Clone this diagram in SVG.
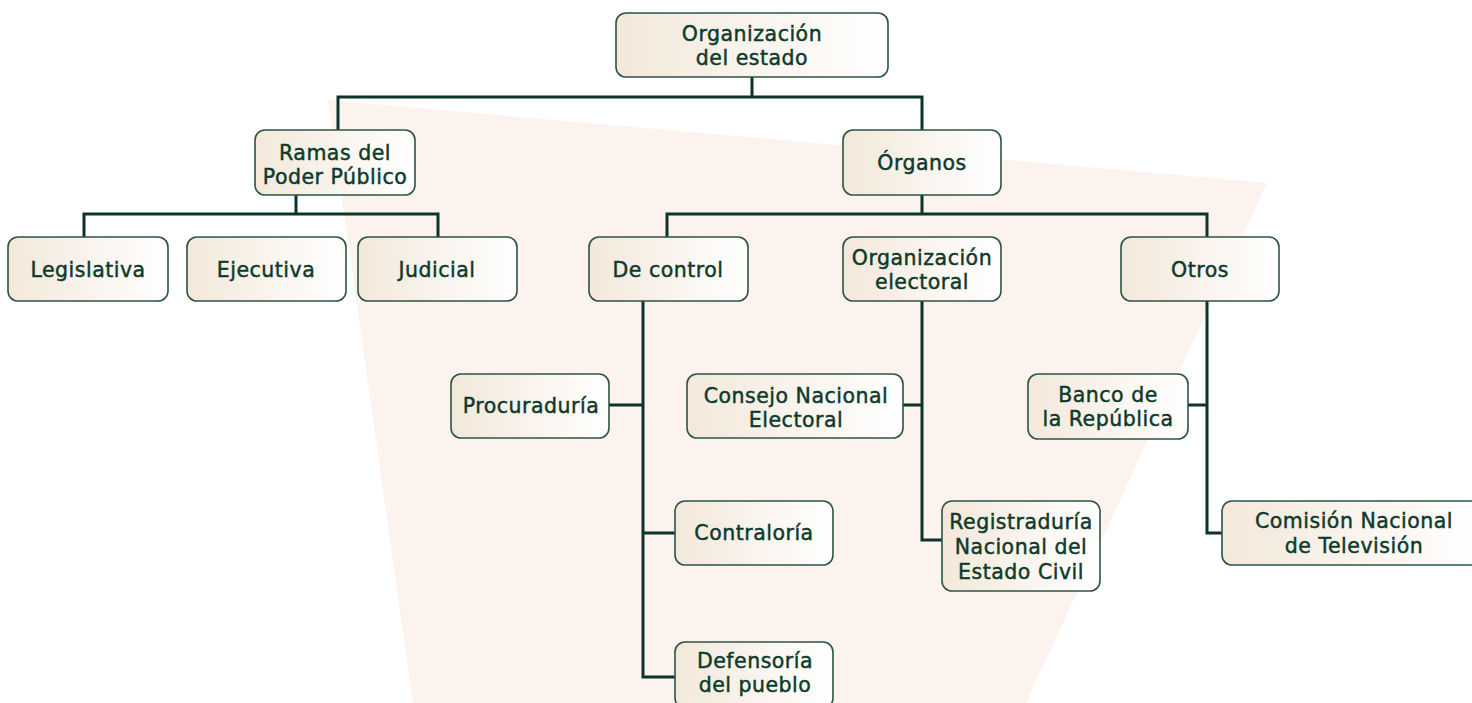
<svg xmlns="http://www.w3.org/2000/svg" width="1472" height="703" viewBox="0 0 1472 703">
<style>
.box{fill:url(#g);stroke:#2c5446;stroke-width:1.6}
.t{font-family:"DejaVu Sans","Open Sans",sans-serif;font-size:20.5px;letter-spacing:0.5px;fill:#0d3a2c;stroke:#0d3a2c;stroke-width:0.45px;text-anchor:middle}
.c{fill:none;stroke:#0b3528;stroke-width:3;stroke-linejoin:miter}
</style>
<defs>
<linearGradient id="g" x1="0" y1="0" x2="1" y2="0">
<stop offset="0" stop-color="#f3e8da"/>
<stop offset="1" stop-color="#ffffff"/>
</linearGradient>
</defs>
<rect width="1472" height="703" fill="#ffffff"/>
<polygon points="328,100 1267,183 1026,703 413,703" fill="#fdf3ee"/>
<g id="connectors">
<path class="c" d="M752,77V97M338,130V97H922V130"/>
<path class="c" d="M296,195V214M84,237V214H438V237"/>
<path class="c" d="M922,195V214M667,237V214H1207V237"/>
<path class="c" d="M643,301V677H675M609,405H643M643,533H675"/>
<path class="c" d="M922,301V540H942M903,405H922"/>
<path class="c" d="M1207,301V533H1222M1188,405H1207"/>
</g>
<g id="n-organizacion"><rect class="box" x="616" y="13" width="272" height="64" rx="10"/><text class="t"><tspan x="752" y="41">Organización</tspan><tspan x="752" y="65">del estado</tspan></text></g>
<g id="n-ramas"><rect class="box" x="255" y="130" width="160" height="65" rx="10"/><text class="t"><tspan x="335" y="160">Ramas del</tspan><tspan x="335" y="184">Poder Público</tspan></text></g>
<g id="n-organos"><rect class="box" x="843" y="130" width="158" height="65" rx="10"/><text class="t" x="922" y="170">Órganos</text></g>
<g id="n-legislativa"><rect class="box" x="8" y="237" width="160" height="64" rx="10"/><text class="t" x="88" y="277">Legislativa</text></g>
<g id="n-ejecutiva"><rect class="box" x="187" y="237" width="159" height="64" rx="10"/><text class="t" x="266" y="277">Ejecutiva</text></g>
<g id="n-judicial"><rect class="box" x="358" y="237" width="159" height="64" rx="10"/><text class="t" x="437" y="277">Judicial</text></g>
<g id="n-decontrol"><rect class="box" x="589" y="237" width="159" height="64" rx="10"/><text class="t" x="668" y="277">De control</text></g>
<g id="n-electoral"><rect class="box" x="843" y="237" width="158" height="64" rx="10"/><text class="t"><tspan x="922" y="265">Organización</tspan><tspan x="922" y="289">electoral</tspan></text></g>
<g id="n-otros"><rect class="box" x="1121" y="237" width="158" height="64" rx="10"/><text class="t" x="1200" y="277">Otros</text></g>
<g id="n-procuraduria"><rect class="box" x="451" y="374" width="158" height="64" rx="10"/><text class="t" x="531" y="413">Procuraduría</text></g>
<g id="n-consejo"><rect class="box" x="687" y="374" width="216" height="64" rx="10"/><text class="t"><tspan x="796" y="403">Consejo Nacional</tspan><tspan x="796" y="427">Electoral</tspan></text></g>
<g id="n-banco"><rect class="box" x="1028" y="374" width="160" height="65" rx="10"/><text class="t"><tspan x="1108" y="402">Banco de</tspan><tspan x="1108" y="426">la República</tspan></text></g>
<g id="n-contraloria"><rect class="box" x="675" y="501" width="158" height="64" rx="10"/><text class="t" x="754" y="540">Contraloría</text></g>
<g id="n-registraduria"><rect class="box" x="942" y="501" width="158" height="90" rx="10"/><text class="t"><tspan x="1021" y="529">Registraduría</tspan><tspan x="1021" y="554">Nacional del</tspan><tspan x="1021" y="579">Estado Civil</tspan></text></g>
<g id="n-comision"><rect class="box" x="1222" y="501" width="262" height="64" rx="10"/><text class="t"><tspan x="1354" y="528">Comisión Nacional</tspan><tspan x="1354" y="553">de Televisión</tspan></text></g>
<g id="n-defensoria"><rect class="box" x="675" y="642" width="158" height="66" rx="10"/><text class="t"><tspan x="755" y="668">Defensoría</tspan><tspan x="755" y="692">del pueblo</tspan></text></g>
</svg>
